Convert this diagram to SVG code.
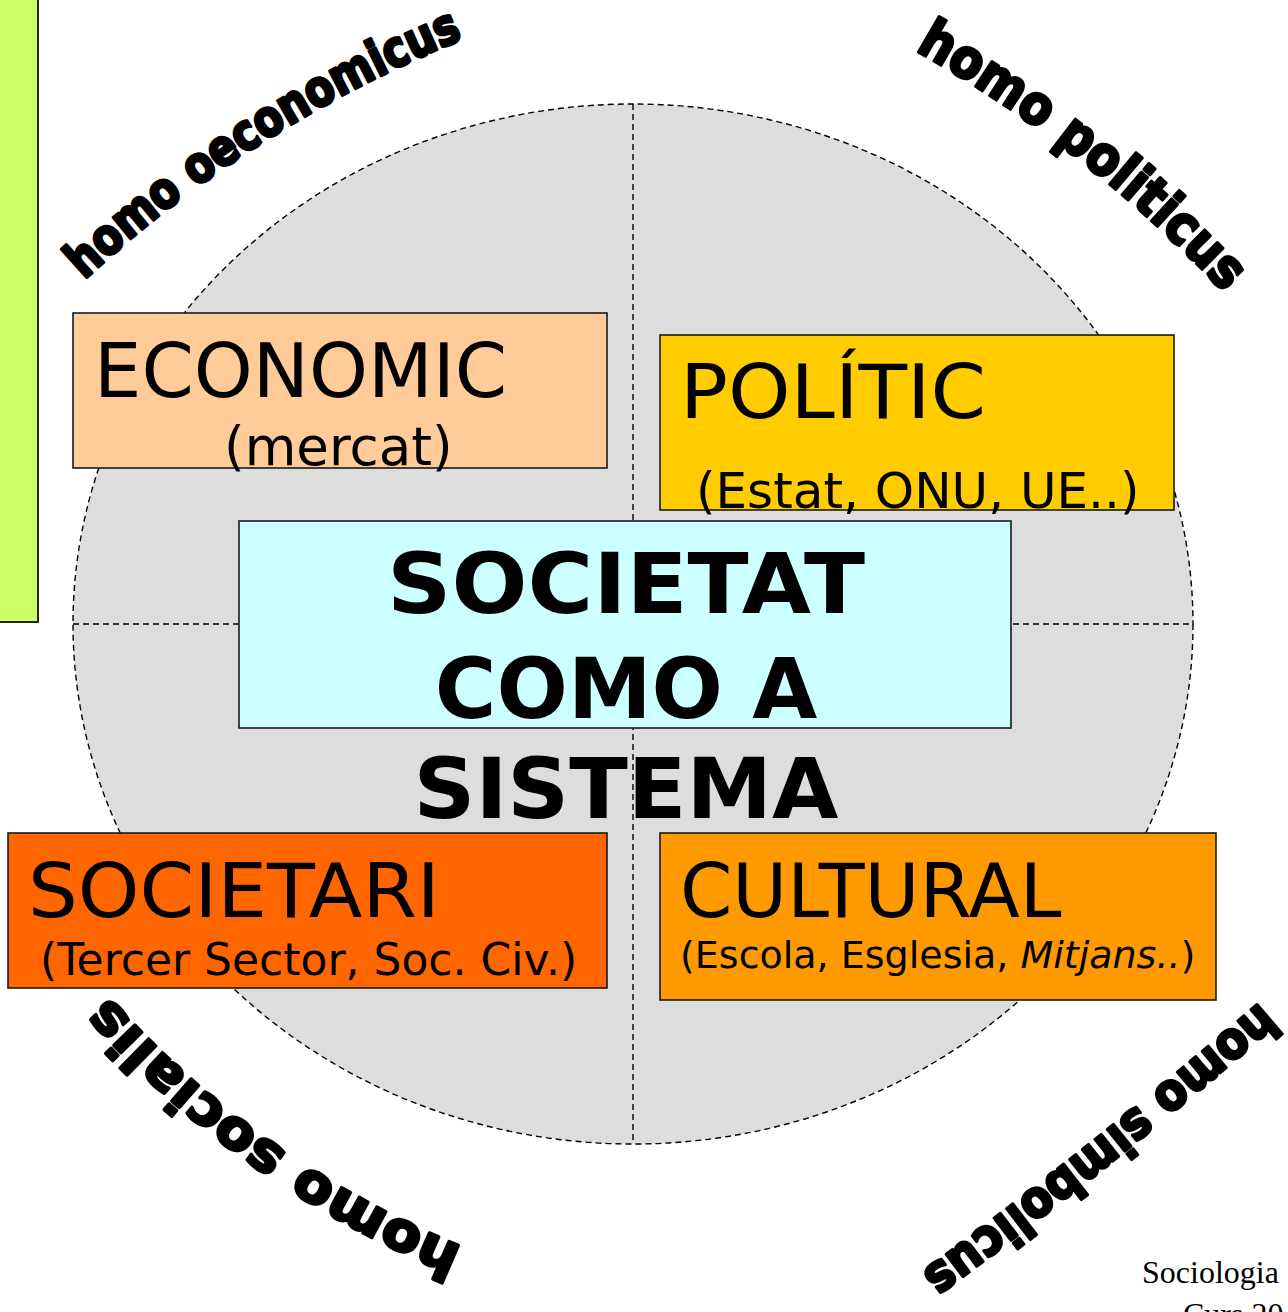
<svg xmlns="http://www.w3.org/2000/svg" width="1288" height="1312" viewBox="0 0 1288 1312">
<style>
.box{stroke:#1a1a1a;stroke-width:1.6}
.t{font-family:"DejaVu Sans","Verdana",sans-serif;fill:#000}
.big{font-size:75px}
.mid{font-size:50px}
.core{font-family:"DejaVu Sans","Verdana",sans-serif;font-weight:bold;font-size:84px;text-anchor:middle}
.arc{font-family:"DejaVu Sans",sans-serif;font-weight:bold;fill:#000;stroke:#000;stroke-width:3.2;stroke-linejoin:round}
.guide{stroke:#000;stroke-width:1.4;stroke-dasharray:6 4;fill:none}
.disc{fill:#dddddd;stroke:#000;stroke-width:1.4;stroke-dasharray:6 4}
</style>
<defs>
<path id="pOec" d="M84,280 Q255,122 470,36"/>
<path id="pPol" d="M915,50 Q1088.5,148 1225,293"/>
<path id="pSoc" d="M463,1247 Q256.6,1162.3 108,996"/>
<path id="pSim" d="M1260,1002 Q1097,1143 921,1273"/>
</defs>
<rect width="1288" height="1312" fill="#ffffff"/>
<g id="sidebar">
<rect x="-10" y="-10" width="48" height="632" fill="#ccff66" stroke="#222" stroke-width="2"/>
</g>
<g id="circle">
<ellipse class="disc" cx="633" cy="624" rx="560" ry="520"/>
</g>
<g id="connectors">
<line class="guide" x1="633" y1="104" x2="633" y2="1144"/>
<line class="guide" x1="73" y1="624" x2="1193" y2="624"/>
</g>
<g id="economic">
<rect class="box" x="73" y="313" width="534" height="155" fill="#ffcc99"/>
<text class="t big" x="94" y="397">ECONOMIC</text>
<text class="t" x="224" y="465" font-size="53">(mercat)</text>
</g>
<g id="politic">
<rect class="box" x="660" y="335" width="514" height="175" fill="#ffcc00"/>
<text class="t big" x="680" y="418" textLength="306" lengthAdjust="spacingAndGlyphs">POLÍTIC</text>
<text class="t mid" x="696" y="508">(Estat, ONU, UE..)</text>
</g>
<g id="societat">
<rect class="box" x="239" y="521" width="772" height="207" fill="#ccffff"/>
<text class="core" x="626" y="613" textLength="478" lengthAdjust="spacingAndGlyphs">SOCIETAT</text>
<text class="core" x="626" y="718">COMO A</text>
<text class="core" x="626" y="818" textLength="425" lengthAdjust="spacingAndGlyphs">SISTEMA</text>
</g>
<g id="societari">
<rect class="box" x="8" y="833" width="599" height="155" fill="#ff6600"/>
<text class="t big" x="28" y="917" textLength="412" lengthAdjust="spacingAndGlyphs">SOCIETARI</text>
<text class="t" x="40" y="975" font-size="44">(Tercer Sector, Soc. Civ.)</text>
</g>
<g id="cultural">
<rect class="box" x="660" y="833" width="556" height="167" fill="#ff9900"/>
<text class="t big" x="680" y="917">CULTURAL</text>
<text class="t" x="680" y="968" font-size="38">(Escola, Esglesia, <tspan font-style="italic">Mitjans..</tspan>)</text>
</g>
<g id="homo-oeconomicus">
<text class="arc" font-size="50"><textPath href="#pOec" textLength="452" lengthAdjust="spacingAndGlyphs">homo oeconomicus</textPath></text>
</g>
<g id="homo-politicus">
<text class="arc" font-size="54"><textPath href="#pPol" textLength="395" lengthAdjust="spacingAndGlyphs">homo politicus</textPath></text>
</g>
<g id="homo-socialis">
<text class="arc" font-size="54"><textPath href="#pSoc" textLength="438" lengthAdjust="spacingAndGlyphs">homo socialis</textPath></text>
</g>
<g id="homo-simbolicus">
<text class="arc" font-size="51"><textPath href="#pSim" textLength="434" lengthAdjust="spacingAndGlyphs">homo simbolicus</textPath></text>
</g>
<g id="footer">
<text x="1142" y="1283" font-family="Liberation Serif,serif" font-size="32">Sociologia</text>
<text x="1183" y="1325" font-family="Liberation Serif,serif" font-size="32">Curs 20</text>
</g>
</svg>
